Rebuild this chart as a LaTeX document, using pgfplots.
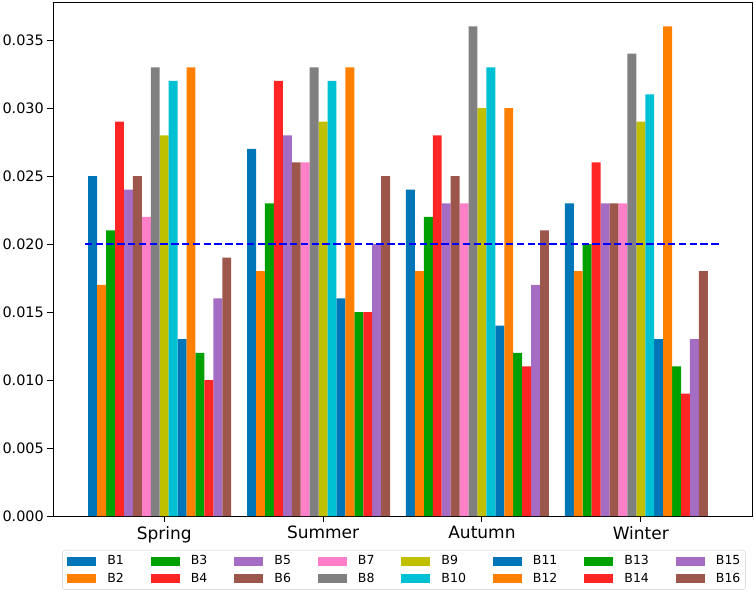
\documentclass[border=0pt]{standalone}
\usepackage{fontspec}
\setmainfont{DejaVu Sans}
\usepackage{pgfplots}
\pgfplotsset{compat=1.18}
\definecolor{c1}{HTML}{0076B8}
\definecolor{c2}{HTML}{FF8000}
\definecolor{c3}{HTML}{00A000}
\definecolor{c4}{HTML}{FF2525}
\definecolor{c5}{HTML}{A56CC4}
\definecolor{c6}{HTML}{9C564B}
\definecolor{c7}{HTML}{FF7FC8}
\definecolor{c8}{HTML}{808080}
\definecolor{c9}{HTML}{C0C000}
\definecolor{c10}{HTML}{00C0D4}
\begin{document}
\begin{tikzpicture}
\useasboundingbox (0,0) rectangle (754pt,-595pt);
\begin{axis}[
  at={(53pt,-2pt)}, anchor=north west,
  scale only axis, width=699pt, height=514pt,
  xmin=-0.7, xmax=3.7, ymin=0, ymax=0.0378,
  xtick={0,1,2,3}, xticklabels={Spring,Summer,Autumn,Winter},
  ytick={0,0.005,0.01,0.015,0.02,0.025,0.03,0.035},
  scaled y ticks=false,
  yticklabel style={/pgf/number format/.cd, fixed, fixed zerofill, precision=3, /tikz/.cd, font=\fontsize{14.4}{16}\selectfont, inner xsep=3pt},
  xticklabel style={font=\fontsize{17}{20}\selectfont, inner ysep=4pt},
  /pgf/number format/assume math mode=true,
  tick align=outside, xtick pos=bottom, ytick pos=left,
  major tick length=6pt,
  tick style={black, line width=1pt},
  axis line style={black, line width=1pt},
  legend columns=8,
  legend image code/.code={\fill[#1, sharp corners] (0pt,-4.5pt) rectangle (29pt,4.5pt); \path (40pt,0pt);},
  legend style={at={(0.502,-0.066)}, anchor=north, draw=black!20, rounded corners=3pt,
    font=\fontsize{12.5}{14}\selectfont, inner xsep=5pt, inner ysep=3.5pt, row sep=3pt,
    nodes={inner xsep=0pt, inner ysep=2pt},
    /tikz/every even column/.append style={column sep=27pt}},
  legend cell align=left,
  every axis plot/.append style={ybar, bar width=0.05625, draw=none},
]
\addplot[fill=c1, bar shift=-0.45] coordinates {(0,0.025) (1,0.027) (2,0.024) (3,0.023)};
\addlegendentry{B1}
\addplot[fill=c3, bar shift=-0.3375] coordinates {(0,0.021) (1,0.023) (2,0.022) (3,0.020)};
\addlegendentry{B3}
\addplot[fill=c5, bar shift=-0.225] coordinates {(0,0.024) (1,0.028) (2,0.023) (3,0.023)};
\addlegendentry{B5}
\addplot[fill=c7, bar shift=-0.1125] coordinates {(0,0.022) (1,0.026) (2,0.023) (3,0.023)};
\addlegendentry{B7}
\addplot[fill=c9, bar shift=0] coordinates {(0,0.028) (1,0.029) (2,0.030) (3,0.029)};
\addlegendentry{B9}
\addplot[fill=c1, bar shift=0.1125] coordinates {(0,0.013) (1,0.016) (2,0.014) (3,0.013)};
\addlegendentry{B11}
\addplot[fill=c3, bar shift=0.225] coordinates {(0,0.012) (1,0.015) (2,0.012) (3,0.011)};
\addlegendentry{B13}
\addplot[fill=c5, bar shift=0.3375] coordinates {(0,0.016) (1,0.020) (2,0.017) (3,0.013)};
\addlegendentry{B15}
\addplot[fill=c2, bar shift=-0.39375] coordinates {(0,0.017) (1,0.018) (2,0.018) (3,0.018)};
\addlegendentry{B2}
\addplot[fill=c4, bar shift=-0.28125] coordinates {(0,0.029) (1,0.032) (2,0.028) (3,0.026)};
\addlegendentry{B4}
\addplot[fill=c6, bar shift=-0.16875] coordinates {(0,0.025) (1,0.026) (2,0.025) (3,0.023)};
\addlegendentry{B6}
\addplot[fill=c8, bar shift=-0.05625] coordinates {(0,0.033) (1,0.033) (2,0.036) (3,0.034)};
\addlegendentry{B8}
\addplot[fill=c10, bar shift=0.05625] coordinates {(0,0.032) (1,0.032) (2,0.033) (3,0.031)};
\addlegendentry{B10}
\addplot[fill=c2, bar shift=0.16875] coordinates {(0,0.033) (1,0.033) (2,0.030) (3,0.036)};
\addlegendentry{B12}
\addplot[fill=c4, bar shift=0.28125] coordinates {(0,0.010) (1,0.015) (2,0.011) (3,0.009)};
\addlegendentry{B14}
\addplot[fill=c6, bar shift=0.39375] coordinates {(0,0.019) (1,0.025) (2,0.021) (3,0.018)};
\addlegendentry{B16}
\addplot[sharp plot, draw=blue, line width=2.6pt, dash pattern=on 7.4pt off 3.4pt, forget plot] coordinates {(-0.5,0.02) (3.5,0.02)};
\end{axis}
\end{tikzpicture}
\end{document}
